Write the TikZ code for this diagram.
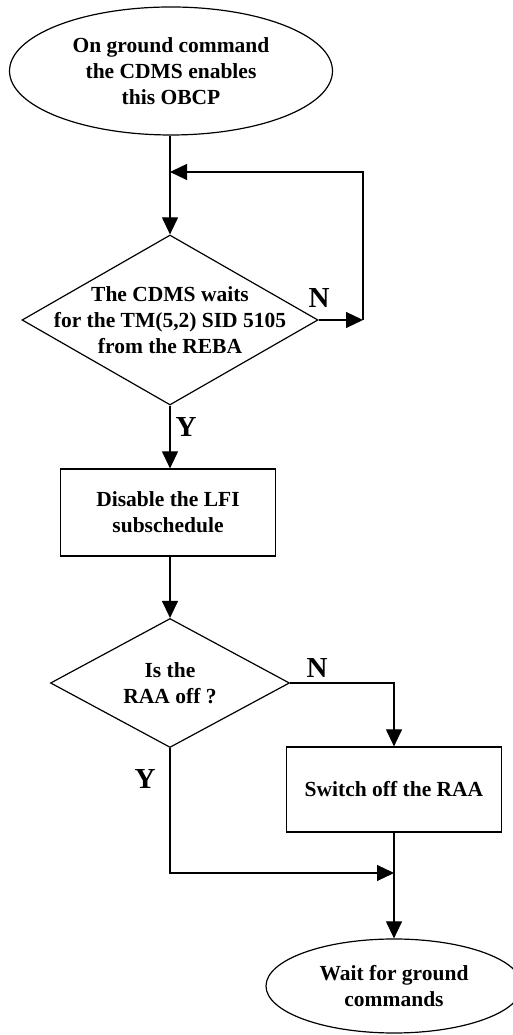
\documentclass[tikz,border=0pt]{standalone}
\usepackage{fontspec}
\setmainfont{Liberation Serif}
\usepackage{tikz}
\usetikzlibrary{shapes.geometric,arrows.meta}
\newdimen\unitsize
\setlength{\unitsize}{1pt}

\begin{document}
\begin{tikzpicture}[x=\unitsize,y=\unitsize,baseline=0]
\tikzset{every node/.style={font=\bfseries\fontsize{21.5}{26}\selectfont, align=center}}%
\tikzset{terminal/.style={draw, line width=1.2pt, ellipse, inner sep=0pt}}%
\tikzset{decision/.style={draw, line width=1.2pt, diamond, inner xsep=-50pt, inner ysep=-15pt}}%
\tikzset{process/.style={draw, line width=1.2pt, rectangle, inner sep=0pt}}%
\tikzset{flow/.style={line width=1.2pt, -{Triangle[length=17pt,width=16pt]}}}%
\tikzset{yn/.style={font=\bfseries\fontsize{29}{34}\selectfont}}%
\useasboundingbox (0,0) rectangle (513,1035);
\node[terminal, minimum width=323, minimum height=128] (start) at (171,964) {On ground command\\ the CDMS enables\\ this OBCP};
\node[decision, minimum width=296, minimum height=170, aspect=1.74] (wait) at (170,715) {The CDMS waits\\ for the TM(5,2) SID 5105\\ from the REBA};
\node[process, minimum width=215, minimum height=87] (disable) at (168,522.5) {Disable the LFI\\ subschedule};
\node[decision, minimum width=239, minimum height=129, aspect=1.85] (raa) at (170,352) {Is the\\ RAA off ?};
\node[process, minimum width=215, minimum height=85] (switch) at (394,245.5) {Switch off the RAA};
\node[terminal, minimum width=256, minimum height=94] (finish) at (394,49) {Wait for ground\\ commands};
\coordinate (loopr) at (363,863);
\coordinate (merge) at (394,162);
\node[yn] (n1) at (319,737) {N};
\node[yn] (y1) at (186,608) {Y};
\node[yn] (n2) at (317,367) {N};
\node[yn] (y2) at (145,256) {Y};
\draw[flow] (start.south -| wait.north) -- (wait.north);
\draw[flow] (wait.east) -- (loopr |- wait.east);
\draw[flow] (loopr |- wait.east) -- (loopr) -- (wait.north |- loopr);
\draw[flow] (wait.south) -- (wait.south |- disable.north);
\draw[flow] (wait.south |- disable.south) -- (raa.north);
\draw[flow] (raa.east) -| (switch.north);
\draw[flow] (raa.south) |- (merge);
\draw[flow] (switch.south) -- (finish.north);
\end{tikzpicture}
\end{document}
